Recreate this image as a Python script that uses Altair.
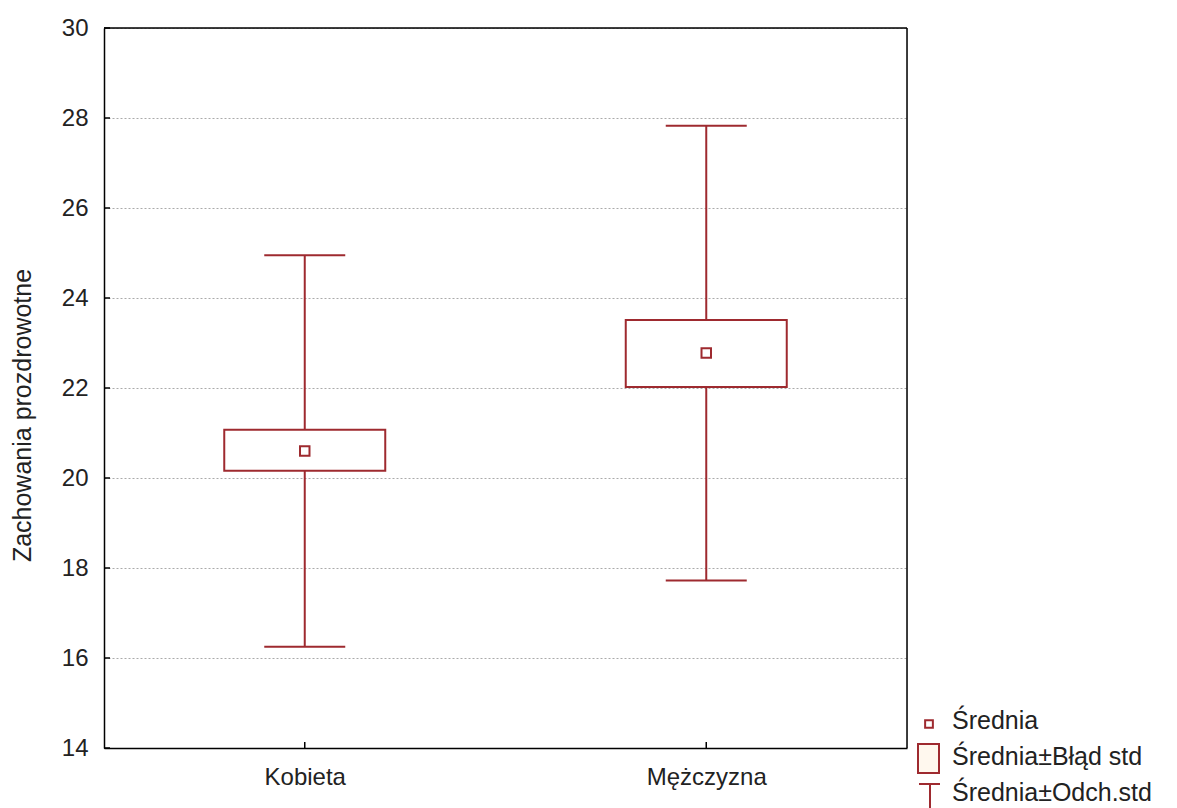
import altair as alt
import pandas as pd

categories = ["Kobieta", "Mężczyzna"]
means = [20.6, 22.78]
se_low = [20.16, 22.02]
se_high = [21.07, 23.51]
sd_low = [16.25, 17.72]
sd_high = [24.95, 27.83]
y_ticks = [14, 16, 18, 20, 22, 24, 26, 28, 30]
legend_labels = ["Średnia", "Średnia±Błąd std", "Średnia±Odch.std"]

RED = "#9E2A2F"
FONT = "Liberation Sans"
W, H = 803, 720

df = pd.DataFrame({"cat": categories, "mean": means, "se_low": se_low, "se_high": se_high,
                   "sd_low": sd_low, "sd_high": sd_high})

xenc = alt.X("cat:N", sort=categories,
             scale=alt.Scale(type="point", padding=0.5),
             axis=alt.Axis(title=None, labelAngle=0, tickSize=0, labelPadding=17,
                           labelFontSize=24, labelColor="#222", labelFont=FONT,
                           domainColor="black", domainWidth=1.5, grid=False))
yscale = alt.Scale(domain=[14, 30], nice=False, zero=False)
yaxis = alt.Axis(title="Zachowania prozdrowotne", values=y_ticks, tickSize=0, labelPadding=16,
                 labelFontSize=24, labelColor="#222", labelFont=FONT, titleFont=FONT,
                 titleFontSize=25, titleFontWeight="normal", titleColor="#222", titlePadding=26,
                 titleY=387,
                 domainColor="black", domainWidth=1.5, grid=True, gridColor="#aaaaaa",
                 gridDash=[2, 2], gridWidth=1)

base = alt.Chart(df)

whisk = base.mark_rule(color=RED, strokeWidth=2).encode(
    x=xenc, y=alt.Y("sd_low:Q", scale=yscale, axis=yaxis), y2="sd_high:Q")
cap_lo = base.mark_tick(color=RED, size=81, thickness=2, orient="horizontal", opacity=1).encode(
    x=alt.X("cat:N", sort=categories), y=alt.Y("sd_low:Q"))
cap_hi = base.mark_tick(color=RED, size=81, thickness=2, orient="horizontal", opacity=1).encode(
    x=alt.X("cat:N", sort=categories), y=alt.Y("sd_high:Q"))
box = base.mark_bar(fill="white", stroke=RED, strokeWidth=2, size=161).encode(
    x=alt.X("cat:N", sort=categories), y=alt.Y("se_low:Q"), y2="se_high:Q")
mean_pt = base.mark_point(shape="square", size=90, filled=False, color=RED, strokeWidth=2,
                          opacity=1).encode(
    x=alt.X("cat:N", sort=categories), y=alt.Y("mean:Q"))

# inward ticks
ytick_df = pd.DataFrame({"v": y_ticks})
yticks = alt.Chart(ytick_df).mark_rule(color="black", strokeWidth=1.5).encode(
    y=alt.Y("v:Q"), x=alt.value(0), x2=alt.value(6))
xticks = alt.Chart(pd.DataFrame({"cat": categories})).mark_rule(color="black", strokeWidth=1.5).encode(
    x=alt.X("cat:N", sort=categories), y=alt.value(H), y2=alt.value(H - 6))

# frame (top and right edges)
frame_top = alt.Chart(pd.DataFrame({"k": [0]})).mark_rule(color="black", strokeWidth=1.5).encode(
    x=alt.value(0), x2=alt.value(W), y=alt.value(0))
frame_right = alt.Chart(pd.DataFrame({"k": [0]})).mark_rule(color="black", strokeWidth=1.5).encode(
    x=alt.value(W), y=alt.value(0), y2=alt.value(H))

# legend
LX = 848
leg_texts = []
for lab, yy in zip(legend_labels, [693, 729, 765]):
    leg_texts.append(
        alt.Chart(pd.DataFrame({"label": [lab]})).mark_text(
            align="left", baseline="middle", fontSize=25, font=FONT, color="#222"
        ).encode(text="label:N", x=alt.value(LX), y=alt.value(yy))
    )
leg_small = alt.Chart(pd.DataFrame({"k": [0]})).mark_point(shape="square", size=60, filled=False,
                                                   color=RED, strokeWidth=2, opacity=1).encode(
    x=alt.value(825), y=alt.value(696))
leg_box = alt.Chart(pd.DataFrame({"k": [1]})).mark_rect(fill="#FFF8EE", stroke=RED, strokeWidth=2).encode(
    x=alt.value(814), x2=alt.value(835), y=alt.value(716), y2=alt.value(745))
leg_t1 = alt.Chart(pd.DataFrame({"k": [2]})).mark_rule(color=RED, strokeWidth=2).encode(
    x=alt.value(815), x2=alt.value(836), y=alt.value(756))
leg_t2 = alt.Chart(pd.DataFrame({"k": [2]})).mark_rule(color=RED, strokeWidth=2).encode(
    x=alt.value(826), y=alt.value(756), y2=alt.value(780))

chart = alt.layer(whisk, cap_lo, cap_hi, box, mean_pt, yticks, xticks, frame_top, frame_right,
                  *leg_texts, leg_small, leg_box, leg_t1, leg_t2).properties(
    width=W, height=H, padding={"left": 2, "top": 8, "right": 5, "bottom": 0}
).configure_view(stroke="black", strokeWidth=1.5).configure(background="white")

chart.save("out.html", embed_options={"renderer": "svg", "actions": False})
